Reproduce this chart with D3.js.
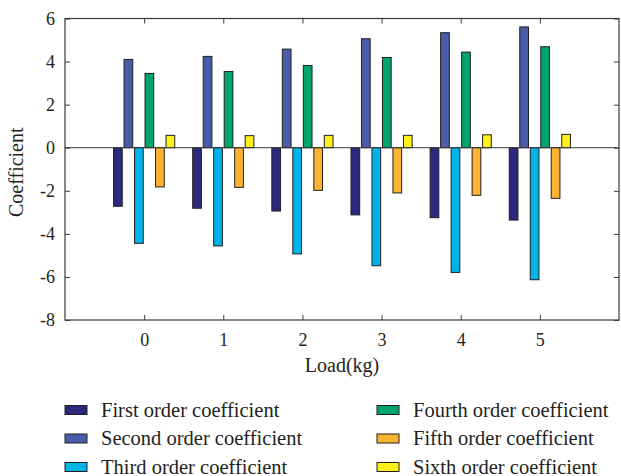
<!DOCTYPE html>
<html>
<head>
<meta charset="utf-8">
<script src="https://cdn.jsdelivr.net/npm/d3@7"></script>
<style>
  html, body { margin: 0; padding: 0; background: #fff; }
  svg { display: block; }
  text { font-family: "Liberation Serif", "DejaVu Serif", serif; fill: #231f20; }
</style>
</head>
<body>
<svg id="chart" width="621" height="476"></svg>
<script>
// Load levels (kg) on the x axis
const loads = [0, 1, 2, 3, 4, 5];

// Polynomial coefficient values per load level
const firstOrder  = [-2.72, -2.81, -2.94, -3.12, -3.25, -3.36];
const secondOrder = [4.10, 4.24, 4.58, 5.06, 5.34, 5.61];
const thirdOrder  = [-4.44, -4.56, -4.93, -5.48, -5.79, -6.13];
const fourthOrder = [3.45, 3.54, 3.82, 4.19, 4.44, 4.69];
const fifthOrder  = [-1.82, -1.84, -1.98, -2.10, -2.21, -2.35];
const sixthOrder  = [0.575, 0.56, 0.575, 0.575, 0.60, 0.62];

const seriesNames = [
  "First order coefficient", "Second order coefficient", "Third order coefficient",
  "Fourth order coefficient", "Fifth order coefficient", "Sixth order coefficient"
];
const seriesColors = ["#2b2a7e", "#4a5ca8", "#00b3e9", "#00a56c", "#fbb332", "#fff11d"];
const seriesValues = [firstOrder, secondOrder, thirdOrder, fourthOrder, fifthOrder, sixthOrder];

const xTicks = [0, 1, 2, 3, 4, 5];
const yTicks = [-8, -6, -4, -2, 0, 2, 4, 6];

const svg = d3.select("#chart");
const plot = { left: 65, right: 619, top: 18.5, bottom: 320 };
const axisColor = "#3a3a3a";

const x = d3.scaleLinear().domain([-1, 6]).range([plot.left, plot.right]);
const y = d3.scaleLinear().domain([-8, 6]).range([plot.bottom, plot.top]);

// Bars within a group are offset by a fixed step in load units
const step = 0.1326, barW = 0.11;
const offset = d3.scaleLinear().domain([0, 5]).range([-2.5 * step, 2.5 * step]);

const bars = svg.append("g");
seriesValues.forEach((vals, s) => {
  bars.selectAll(null)
    .data(vals.map((v, i) => ({ load: loads[i], v })))
    .join("rect")
    .attr("x", d => x(d.load + offset(s) - barW / 2))
    .attr("width", x(barW) - x(0))
    .attr("y", d => y(Math.max(0, d.v)))
    .attr("height", d => Math.abs(y(d.v) - y(0)))
    .attr("fill", seriesColors[s])
    .attr("stroke", "#231f20")
    .attr("stroke-width", 1);
});

// Zero baseline
svg.append("line")
  .attr("x1", plot.left).attr("x2", plot.right)
  .attr("y1", y(0)).attr("y2", y(0))
  .attr("stroke", axisColor).attr("stroke-width", 1);

// Tick labels use a plain hyphen for negatives
const intFmt = d => String(d);

// Box axes with inward ticks
const tickLen = 5;
function styleAxis(g) {
  g.select(".domain").remove();
  g.selectAll("line").attr("stroke", axisColor).attr("stroke-width", 1);
  g.selectAll("text").attr("fill", "#231f20").style("font-size", "18px")
    .style("font-family", "'Liberation Serif', 'DejaVu Serif', serif");
}
const gBottom = svg.append("g").attr("transform", `translate(0,${plot.bottom})`)
  .call(d3.axisBottom(x).tickValues(xTicks).tickFormat(intFmt).tickSizeInner(-tickLen).tickSizeOuter(0).tickPadding(13));
styleAxis(gBottom);
const gTop = svg.append("g").attr("transform", `translate(0,${plot.top})`)
  .call(d3.axisTop(x).tickValues(xTicks).tickFormat("").tickSizeInner(-tickLen).tickSizeOuter(0));
styleAxis(gTop);
const gLeft = svg.append("g").attr("transform", `translate(${plot.left},0)`)
  .call(d3.axisLeft(y).tickValues(yTicks).tickFormat(intFmt).tickSizeInner(-tickLen).tickSizeOuter(0).tickPadding(10));
styleAxis(gLeft);
const gRight = svg.append("g").attr("transform", `translate(${plot.right},0)`)
  .call(d3.axisRight(y).tickValues(yTicks).tickFormat("").tickSizeInner(-tickLen).tickSizeOuter(0));
styleAxis(gRight);

svg.append("rect")
  .attr("x", plot.left).attr("y", plot.top)
  .attr("width", plot.right - plot.left).attr("height", plot.bottom - plot.top)
  .attr("fill", "none").attr("stroke", axisColor).attr("stroke-width", 1.2);

// Axis titles
svg.append("text")
  .attr("x", 342).attr("y", 372)
  .attr("text-anchor", "middle").style("font-size", "20px")
  .text("Load(kg)");
svg.append("text")
  .attr("transform", `translate(23,${(plot.top + plot.bottom) / 2 + 3}) rotate(-90)`)
  .attr("text-anchor", "middle").style("font-size", "20px")
  .text("Coefficient");

// Legend in two columns of three
const legend = svg.append("g");
seriesNames.forEach((name, s) => {
  const col = Math.floor(s / 3), row = s % 3;
  const lx = col === 0 ? 65 : 377;
  const ly = 410 + row * 28.5;
  legend.append("rect")
    .attr("x", lx).attr("y", ly - 4.5)
    .attr("width", 22).attr("height", 9)
    .attr("fill", seriesColors[s]).attr("stroke", "#231f20").attr("stroke-width", 1);
  legend.append("text")
    .attr("x", lx + 36).attr("y", ly + 6.5)
    .style("font-size", "20.5px")
    .text(name);
});
</script>
</body>
</html>
